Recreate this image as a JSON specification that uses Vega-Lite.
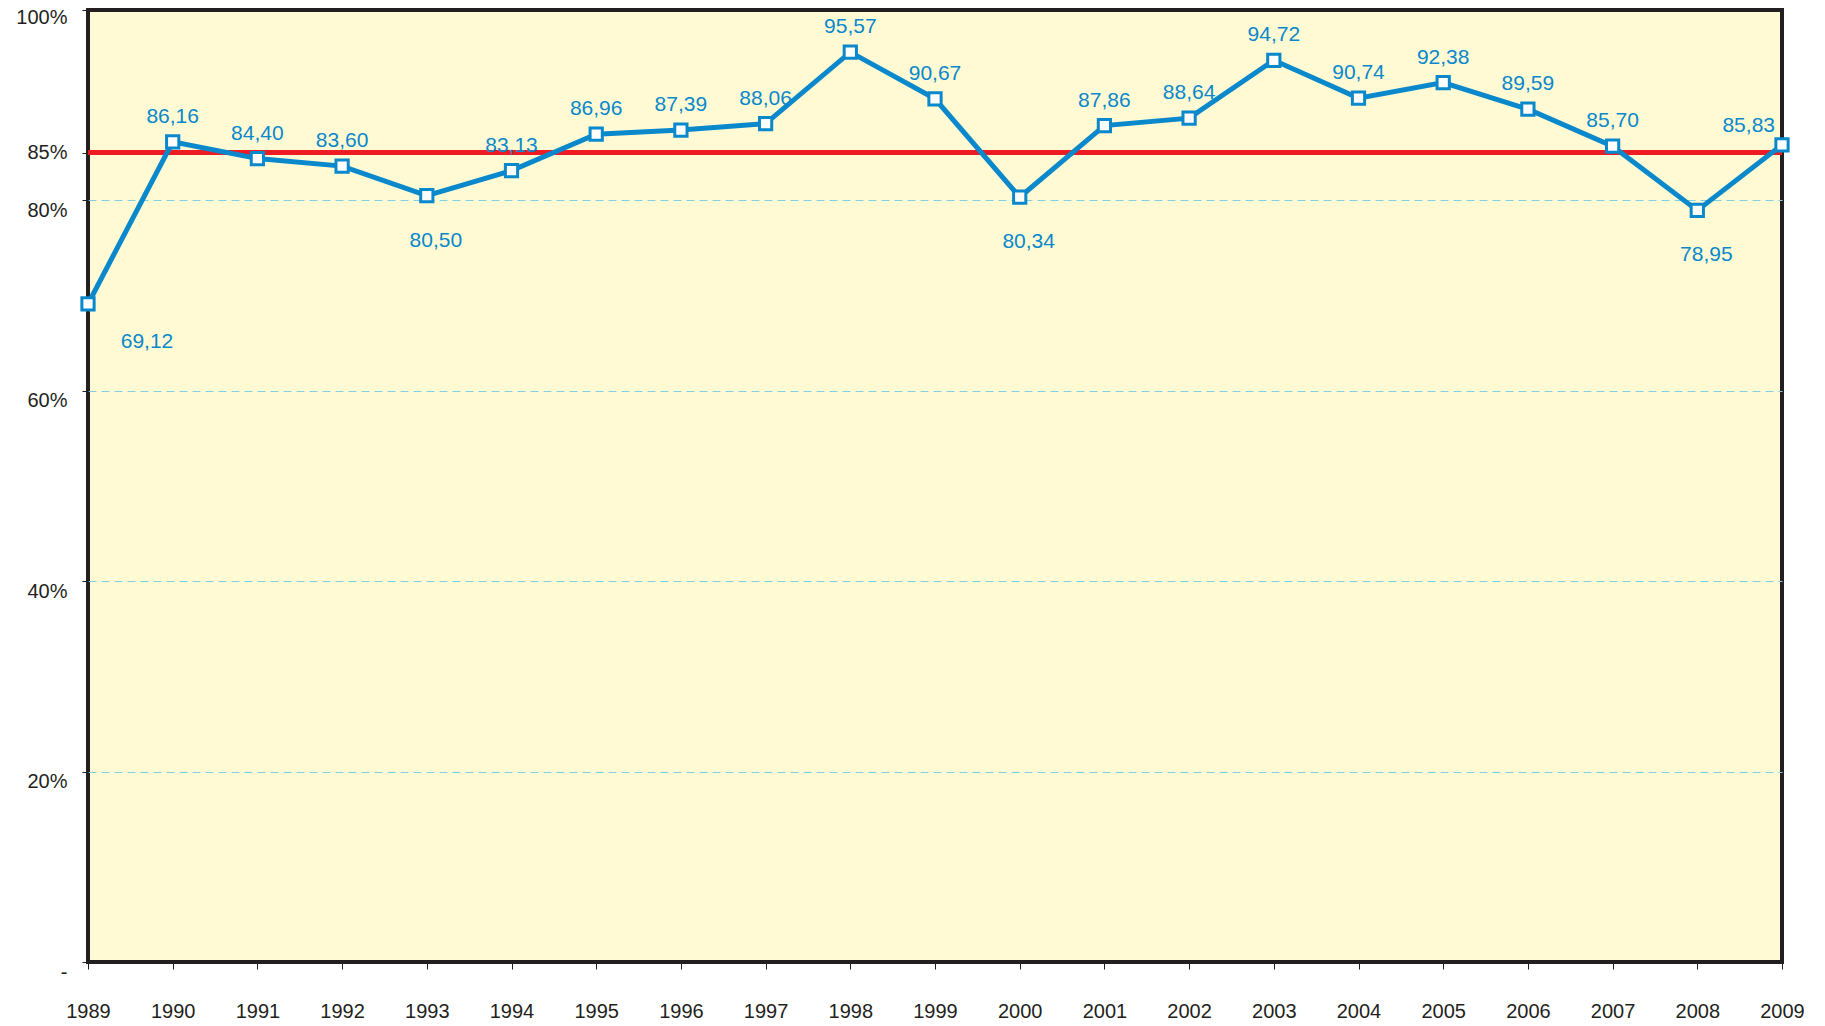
{
  "$schema": "https://vega.github.io/schema/vega-lite/v6.json",
  "width": 1694,
  "height": 952,
  "autosize": {"type": "none"},
  "padding": {"left": 88, "top": 10, "right": 43, "bottom": 64},
  "background": "#ffffff",
  "config": {
    "font": "Liberation Sans",
    "locale": {"number": {"decimal": ",", "thousands": ".", "grouping": [3], "currency": ["", " €"]}},
    "view": {"fill": "#FFFAD4", "stroke": "#231F20", "strokeWidth": 4}
  },
  "data": {
    "values": [
      {"year": "1989", "value": 69.12},
      {"year": "1990", "value": 86.16},
      {"year": "1991", "value": 84.40},
      {"year": "1992", "value": 83.60},
      {"year": "1993", "value": 80.50},
      {"year": "1994", "value": 83.13},
      {"year": "1995", "value": 86.96},
      {"year": "1996", "value": 87.39},
      {"year": "1997", "value": 88.06},
      {"year": "1998", "value": 95.57},
      {"year": "1999", "value": 90.67},
      {"year": "2000", "value": 80.34},
      {"year": "2001", "value": 87.86},
      {"year": "2002", "value": 88.64},
      {"year": "2003", "value": 94.72},
      {"year": "2004", "value": 90.74},
      {"year": "2005", "value": 92.38},
      {"year": "2006", "value": 89.59},
      {"year": "2007", "value": 85.70},
      {"year": "2008", "value": 78.95},
      {"year": "2009", "value": 85.83}
    ]
  },
  "encoding": {
    "x": {
      "field": "year", "type": "ordinal",
      "scale": {"type": "point", "padding": 0},
      "axis": {
        "title": null, "labelAngle": 0, "domain": false,
        "tickColor": "#231F20", "tickSize": 7, "tickWidth": 1,
        "labelFontSize": 20, "labelColor": "#231F20", "labelPadding": 32,
        "labelBaseline": "top"
      }
    },
    "y": {
      "field": "value", "type": "quantitative",
      "scale": {"domain": [0, 100], "nice": false, "zero": true},
      "axis": {
        "title": null, "values": [0, 20, 40, 60, 80, 85, 100],
        "labelExpr": "datum.value == 0 ? '-' : datum.value + '%'",
        "domain": false, "tickColor": "#231F20", "tickSize": 6, "tickWidth": 1,
        "labelFontSize": 20, "labelColor": "#231F20", "labelPadding": 15,
        "labelBaseline": {"condition": {"test": "datum.value == 85", "value": "middle"}, "value": "top"},
        "labelOffset": {"condition": {"test": "datum.value == 100", "value": -3}, "value": 0},
        "grid": true, "gridColor": "#7FD0E3", "gridDash": [8, 5], "gridWidth": 1,
        "gridOpacity": {"condition": {"test": "datum.value > 0 && datum.value <= 80", "value": 1}, "value": 0}
      }
    }
  },
  "layer": [
    {
      "mark": {"type": "rule", "color": "#ED1C24", "strokeWidth": 4},
      "encoding": {"y": {"datum": 85}, "x": null}
    },
    {
      "mark": {"type": "line", "color": "#0A88CC", "strokeWidth": 5}
    },
    {
      "mark": {"type": "point", "shape": "square", "size": 150, "filled": true, "fill": "#ffffff", "stroke": "#0A88CC", "strokeWidth": 3, "opacity": 1}
    },
    {
      "transform": [{"filter": "datum.value >= 81 && datum.year != '2009'"}],
      "mark": {"type": "text", "fontSize": 21, "color": "#0A88CC", "baseline": "middle", "dy": -25},
      "encoding": {"text": {"field": "value", "type": "quantitative", "format": ".2f"}}
    },
    {
      "transform": [{"filter": "datum.value < 81 && datum.year != '1989'"}],
      "mark": {"type": "text", "fontSize": 21, "color": "#0A88CC", "baseline": "middle", "dy": 45, "dx": 9},
      "encoding": {"text": {"field": "value", "type": "quantitative", "format": ".2f"}}
    },
    {
      "transform": [{"filter": "datum.year == '1989'"}],
      "mark": {"type": "text", "fontSize": 21, "color": "#0A88CC", "baseline": "middle", "dy": 38, "dx": 59},
      "encoding": {"text": {"field": "value", "type": "quantitative", "format": ".2f"}}
    },
    {
      "transform": [{"filter": "datum.year == '2009'"}],
      "mark": {"type": "text", "fontSize": 21, "color": "#0A88CC", "baseline": "middle", "align": "right", "dy": -19, "dx": -7},
      "encoding": {"text": {"field": "value", "type": "quantitative", "format": ".2f"}}
    }
  ]
}
